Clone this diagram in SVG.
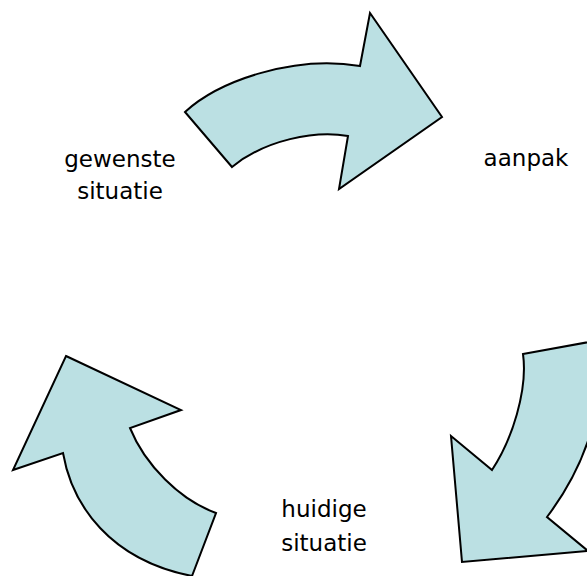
<svg xmlns="http://www.w3.org/2000/svg" width="587" height="576" viewBox="0 0 587 576">
<style>
.arrow{fill:#bbe0e3;stroke:#000;stroke-width:2;stroke-linejoin:miter}
.lbl{font-family:"DejaVu Sans","Liberation Sans",sans-serif;font-size:23px;fill:#000;text-anchor:middle}
</style>
<rect width="587" height="576" fill="#fff"/>
<g id="connectors">
<path id="arrow-top" class="arrow" d="M185,112 C220,80 295,55 360,66 L370,13 L442,117 L339,189 L348,136 C315,130 265,140 232,167 Z"/>
<path id="arrow-right" class="arrow" d="M523,354 L600,340 C605,400 590,460 547,517 L588,551 L462,562 L451,436 L492,470 C512,440 528,390 523,354 Z"/>
<path id="arrow-left" class="arrow" d="M66,356 L181,410 L130,428 C145,465 180,500 216,513 L192,576 C110,560 72,505 63,453 L13,470 Z"/>
</g>
<g id="node-gewenste">
<text class="lbl" x="120" y="167">gewenste</text>
<text class="lbl" x="120" y="199">situatie</text>
</g>
<g id="node-aanpak">
<text class="lbl" x="526" y="166">aanpak</text>
</g>
<g id="node-huidige">
<text class="lbl" x="324" y="517">huidige</text>
<text class="lbl" x="324" y="551">situatie</text>
</g>
</svg>
